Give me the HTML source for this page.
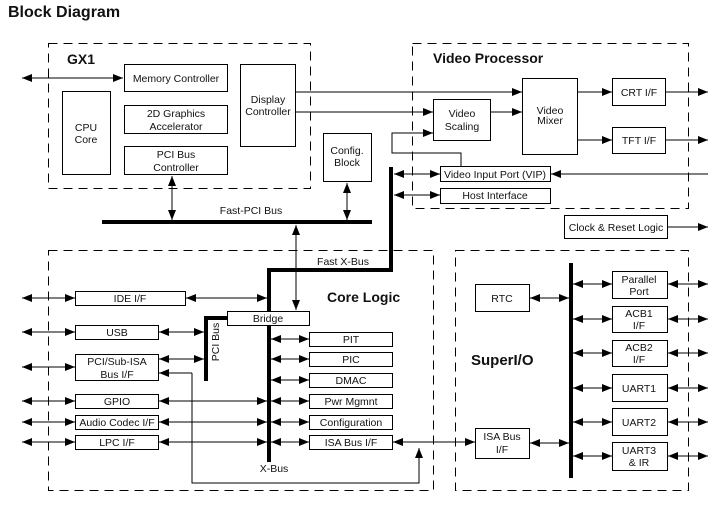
<!DOCTYPE html>
<html><head><style>
html,body{margin:0;padding:0;background:#fff;}
svg{display:block;font-family:"Liberation Sans",Arial,sans-serif;}
text{font-size:10.5px;fill:#111;}
.b{font-weight:bold;}
</style></head><body>
<svg width="727" height="506" viewBox="0 0 727 506" xmlns="http://www.w3.org/2000/svg">
<defs>
<marker id="a" viewBox="0 0 10 8" refX="10" refY="4" markerWidth="10" markerHeight="8" markerUnits="userSpaceOnUse" orient="auto-start-reverse"><path d="M0,0L10,4L0,8z" fill="#000"/></marker>
</defs>
<text x="8" y="17" class="b" style="font-size:16px">Block Diagram</text>
<g fill="none" stroke="#000" stroke-width="1" stroke-dasharray="9,6">
<rect x="48.5" y="43.5" width="262" height="145"/>
<rect x="412.5" y="43.5" width="276" height="165"/>
<rect x="48.5" y="250.5" width="385" height="240"/>
<rect x="455.5" y="250.5" width="233" height="240"/>
</g>
<text x="67" y="64" class="b" style="font-size:14px">GX1</text>
<text x="433" y="63" class="b" style="font-size:14px">Video Processor</text>
<text x="327" y="302" class="b" style="font-size:14px">Core Logic</text>
<text x="471" y="365" class="b" style="font-size:15px">SuperI/O</text>
<g fill="none" stroke="#000" stroke-width="4">
<path d="M102,222H372"/>
<path d="M391,167V270H269V462"/>
<path d="M227,318H206V381"/>
<path d="M571,263V478"/>
</g>
<g fill="#fff" stroke="#000" stroke-width="1">
<rect x="124.5" y="64.5" width="103" height="27"/>
<rect x="62.5" y="91.5" width="48" height="83"/>
<rect x="124.5" y="105.5" width="103" height="28"/>
<rect x="124.5" y="146.5" width="103" height="28"/>
<rect x="240.5" y="64.5" width="55" height="82"/>
<rect x="323.5" y="133.5" width="48" height="48"/>
<rect x="433.5" y="99.5" width="57" height="41"/>
<rect x="522.5" y="78.5" width="55" height="76"/>
<rect x="612.5" y="78.5" width="53" height="27"/>
<rect x="612.5" y="127.5" width="53" height="26"/>
<rect x="440.5" y="166.5" width="110" height="15"/>
<rect x="440.5" y="188.5" width="110" height="15"/>
<rect x="564.5" y="215.5" width="103" height="23"/>
<rect x="75.5" y="291.5" width="110" height="14"/>
<rect x="227.5" y="311.5" width="82" height="14"/>
<rect x="75.5" y="325.5" width="83" height="14"/>
<rect x="75.5" y="354.5" width="83" height="26"/>
<rect x="75.5" y="394.5" width="83" height="14"/>
<rect x="75.5" y="415.5" width="83" height="14"/>
<rect x="75.5" y="435.5" width="83" height="14"/>
<rect x="309.5" y="332.5" width="83" height="14"/>
<rect x="309.5" y="352.5" width="83" height="14"/>
<rect x="309.5" y="373.5" width="83" height="14"/>
<rect x="309.5" y="394.5" width="83" height="14"/>
<rect x="309.5" y="415.5" width="83" height="14"/>
<rect x="309.5" y="435.5" width="83" height="14"/>
<rect x="475.5" y="284.5" width="54" height="27"/>
<rect x="475.5" y="428.5" width="54" height="30"/>
<rect x="612.5" y="271.5" width="55" height="27"/>
<rect x="612.5" y="306.5" width="55" height="26"/>
<rect x="612.5" y="340.5" width="55" height="26"/>
<rect x="612.5" y="374.5" width="55" height="27"/>
<rect x="612.5" y="408.5" width="55" height="27"/>
<rect x="612.5" y="442.5" width="55" height="28"/>
</g>
<g text-anchor="middle">
<text x="176" y="82">Memory Controller</text>
<text x="86" y="131">CPU</text><text x="86" y="143">Core</text>
<text x="176" y="117">2D Graphics</text><text x="176" y="130">Accelerator</text>
<text x="176" y="158">PCI Bus</text><text x="176" y="171">Controller</text>
<text x="268" y="103">Display</text><text x="268" y="115">Controller</text>
<text x="347" y="154">Config.</text><text x="347" y="166">Block</text>
<text x="462" y="117">Video</text><text x="462" y="130">Scaling</text>
<text x="550" y="114">Video</text><text x="550" y="124">Mixer</text>
<text x="639" y="96">CRT I/F</text>
<text x="639" y="144">TFT I/F</text>
<text x="495" y="178">Video Input Port (VIP)</text>
<text x="495" y="199">Host Interface</text>
<text x="616" y="231">Clock &amp; Reset Logic</text>
<text x="251" y="214">Fast-PCI Bus</text>
<text x="343" y="265">Fast X-Bus</text>
<text x="130" y="302">IDE I/F</text>
<text x="268" y="322">Bridge</text>
<text x="117" y="336">USB</text>
<text x="117" y="365">PCI/Sub-ISA</text><text x="117" y="378">Bus I/F</text>
<text x="117" y="405">GPIO</text>
<text x="117" y="426">Audio Codec I/F</text>
<text x="117" y="446">LPC I/F</text>
<text x="351" y="343">PIT</text>
<text x="351" y="363">PIC</text>
<text x="351" y="384">DMAC</text>
<text x="351" y="405">Pwr Mgmnt</text>
<text x="351" y="426">Configuration</text>
<text x="351" y="446">ISA Bus I/F</text>
<text x="274" y="472">X-Bus</text>
<text x="502" y="302">RTC</text>
<text x="502" y="440">ISA Bus</text><text x="502" y="453">I/F</text>
<text x="639" y="283">Parallel</text><text x="639" y="295">Port</text>
<text x="639" y="317">ACB1</text><text x="639" y="329">I/F</text>
<text x="639" y="351">ACB2</text><text x="639" y="363">I/F</text>
<text x="639" y="392">UART1</text>
<text x="639" y="426">UART2</text>
<text x="639" y="454">UART3</text><text x="639" y="466">&amp; IR</text>
<text transform="translate(219,342) rotate(-90)">PCI Bus</text>
</g>
<g fill="none" stroke="#000" stroke-width="1">
<path d="M22,78H123" marker-start="url(#a)" marker-end="url(#a)"/>
<path d="M172,176V220" marker-start="url(#a)" marker-end="url(#a)"/>
<path d="M347,183V220" marker-start="url(#a)" marker-end="url(#a)"/>
<path d="M296,225V310" marker-start="url(#a)" marker-end="url(#a)"/>
<path d="M296,92H522" marker-end="url(#a)"/>
<path d="M296,112H433" marker-end="url(#a)"/>
<path d="M461,166V153H392V133H433" marker-end="url(#a)"/>
<path d="M490,112H522" marker-end="url(#a)"/>
<path d="M577,92H612" marker-end="url(#a)"/>
<path d="M577,140H612" marker-end="url(#a)"/>
<path d="M666,92H708" marker-end="url(#a)"/>
<path d="M666,140H708" marker-end="url(#a)"/>
<path d="M708,174H551" marker-end="url(#a)"/>
<path d="M394,174H440" marker-start="url(#a)" marker-end="url(#a)"/>
<path d="M394,195H440" marker-start="url(#a)" marker-end="url(#a)"/>
<path d="M668,227H708" marker-end="url(#a)"/>
<path d="M22,298H75" marker-start="url(#a)" marker-end="url(#a)"/>
<path d="M22,332H75" marker-start="url(#a)" marker-end="url(#a)"/>
<path d="M22,367H75" marker-start="url(#a)" marker-end="url(#a)"/>
<path d="M22,401H75" marker-start="url(#a)" marker-end="url(#a)"/>
<path d="M22,422H75" marker-start="url(#a)" marker-end="url(#a)"/>
<path d="M22,442H75" marker-start="url(#a)" marker-end="url(#a)"/>
<path d="M186,298H267" marker-start="url(#a)" marker-end="url(#a)"/>
<path d="M159,332H204" marker-start="url(#a)" marker-end="url(#a)"/>
<path d="M159,359H204" marker-start="url(#a)" marker-end="url(#a)"/>
<path d="M159,401H267" marker-start="url(#a)" marker-end="url(#a)"/>
<path d="M159,422H267" marker-start="url(#a)" marker-end="url(#a)"/>
<path d="M159,442H267" marker-start="url(#a)" marker-end="url(#a)"/>
<path d="M192,373V483H419V448" marker-end="url(#a)"/>
<path d="M192,373H159" marker-end="url(#a)"/>
<path d="M271,339H309" marker-start="url(#a)" marker-end="url(#a)"/>
<path d="M271,359H309" marker-start="url(#a)" marker-end="url(#a)"/>
<path d="M271,380H309" marker-start="url(#a)" marker-end="url(#a)"/>
<path d="M271,401H309" marker-start="url(#a)" marker-end="url(#a)"/>
<path d="M271,422H309" marker-start="url(#a)" marker-end="url(#a)"/>
<path d="M271,442H309" marker-start="url(#a)" marker-end="url(#a)"/>
<path d="M393,442H475" marker-start="url(#a)" marker-end="url(#a)"/>
<path d="M530,298H569" marker-start="url(#a)" marker-end="url(#a)"/>
<path d="M530,443H569" marker-start="url(#a)" marker-end="url(#a)"/>
<path d="M573,284H612" marker-start="url(#a)" marker-end="url(#a)"/>
<path d="M573,319H612" marker-start="url(#a)" marker-end="url(#a)"/>
<path d="M573,353H612" marker-start="url(#a)" marker-end="url(#a)"/>
<path d="M573,388H612" marker-start="url(#a)" marker-end="url(#a)"/>
<path d="M573,422H612" marker-start="url(#a)" marker-end="url(#a)"/>
<path d="M573,456H612" marker-start="url(#a)" marker-end="url(#a)"/>
<path d="M668,284H708" marker-start="url(#a)" marker-end="url(#a)"/>
<path d="M668,319H708" marker-start="url(#a)" marker-end="url(#a)"/>
<path d="M668,353H708" marker-start="url(#a)" marker-end="url(#a)"/>
<path d="M668,388H708" marker-start="url(#a)" marker-end="url(#a)"/>
<path d="M668,422H708" marker-start="url(#a)" marker-end="url(#a)"/>
<path d="M668,456H708" marker-start="url(#a)" marker-end="url(#a)"/>
</g>
</svg>
</body></html>
